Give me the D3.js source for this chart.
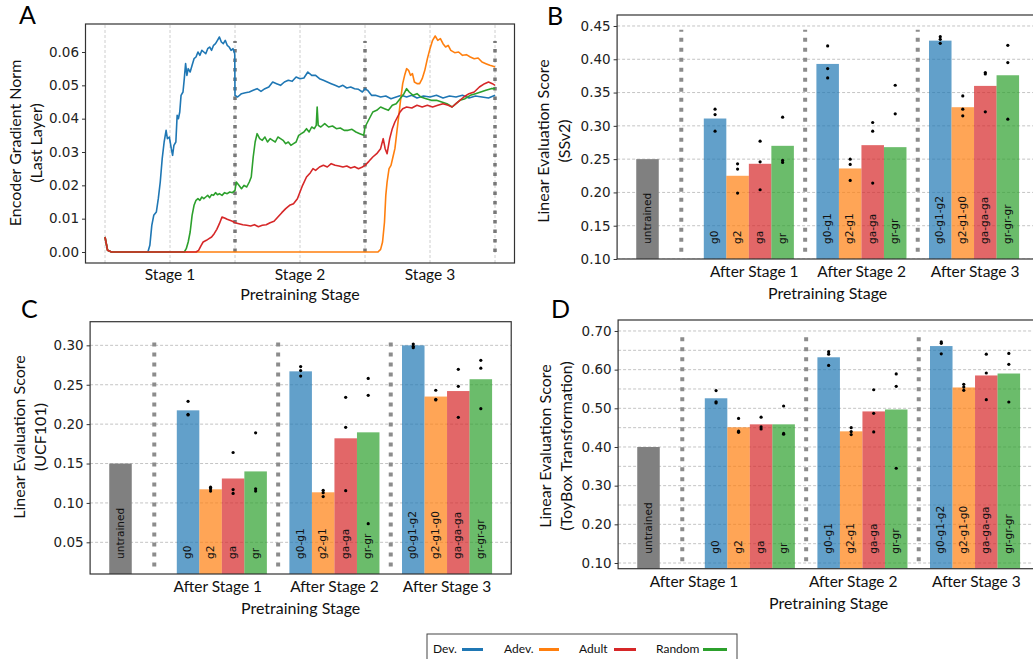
<!DOCTYPE html>
<meta charset="utf-8">
<head>
  <title>Encoder gradient norm and linear evaluation</title>
</head>
<style>
body { margin: 0; background: #fff; }
text { font-family: Lato, "DejaVu Sans", sans-serif; }
text.barlab { font-family: "DejaVu Sans", sans-serif; font-size: 10.6px; fill: #111; }
.tick text { font-family: "DejaVu Sans", sans-serif; font-size: 13.5px; fill: #222; }
.tick line { stroke: #333; }
.domain { display: none; }
</style>
<body>
<svg id="fig" width="1033" height="659"></svg>
<script src="https://cdnjs.cloudflare.com/ajax/libs/d3/7.8.5/d3.min.js"></script>
<script>
// ---- data ----
var conditions = ["Dev.", "Adev.", "Adult", "Random"]
var colors = ["#1f77b4", "#ff7f0e", "#d62728", "#2ca02c"]
var stageLabels = ["After Stage 1", "After Stage 2", "After Stage 3"]
var barLabels = [
  ["g0", "g2", "ga", "gr"],
  ["g0-g1", "g2-g1", "ga-ga", "gr-gr"],
  ["g0-g1-g2", "g2-g1-g0", "ga-ga-ga", "gr-gr-gr"]
]

// panel A: gradient norm per training progress (stage units)
var gradDev = [[0,0.0045],[0.02,0.0005],[0.05,0],[0.33,0],[0.345,0.002],[0.36,0.008],[0.375,0.011],[0.395,0.012],[0.41,0.016],[0.425,0.021],[0.44,0.028],[0.455,0.033],[0.47,0.0365],[0.48,0.034],[0.495,0.0345],[0.51,0.031],[0.52,0.029],[0.53,0.032],[0.545,0.033],[0.555,0.041],[0.565,0.040],[0.575,0.042],[0.585,0.047],[0.6,0.048],[0.61,0.052],[0.62,0.0565],[0.63,0.053],[0.64,0.055],[0.655,0.054],[0.67,0.056],[0.685,0.058],[0.7,0.0585],[0.715,0.060],[0.73,0.059],[0.745,0.0605],[0.76,0.060],[0.775,0.0595],[0.79,0.061],[0.805,0.0615],[0.82,0.0605],[0.835,0.062],[0.85,0.0625],[0.865,0.0635],[0.88,0.0645],[0.895,0.063],[0.91,0.0625],[0.925,0.0635],[0.94,0.062],[0.955,0.0615],[0.97,0.0605],[0.985,0.061],[0.998,0.0595],[1.0,0.047],[1.02,0.0465],[1.05,0.0475],[1.08,0.0478],[1.11,0.048],[1.14,0.0485],[1.17,0.049],[1.2,0.0482],[1.23,0.049],[1.26,0.0495],[1.29,0.051],[1.32,0.0505],[1.35,0.050],[1.38,0.051],[1.41,0.0515],[1.44,0.0512],[1.47,0.0525],[1.5,0.052],[1.53,0.0522],[1.56,0.054],[1.59,0.053],[1.62,0.053],[1.65,0.052],[1.68,0.0515],[1.71,0.051],[1.74,0.0505],[1.77,0.050],[1.8,0.0495],[1.83,0.050],[1.86,0.0492],[1.89,0.0495],[1.92,0.049],[1.95,0.0488],[1.98,0.048],[2.0,0.049],[2.02,0.0485],[2.05,0.047],[2.08,0.047],[2.12,0.0465],[2.16,0.0468],[2.2,0.046],[2.24,0.0465],[2.28,0.047],[2.32,0.0465],[2.36,0.047],[2.4,0.0462],[2.45,0.0468],[2.5,0.0465],[2.55,0.047],[2.6,0.0462],[2.65,0.0468],[2.7,0.0465],[2.75,0.047],[2.8,0.0462],[2.85,0.0468],[2.9,0.0465],[2.95,0.0462],[3.0,0.047]]
var gradAdev = [[0,0.0045],[0.02,0.0005],[0.05,0],[2.1,0],[2.12,0.0008],[2.135,0.003],[2.15,0.009],[2.16,0.017],[2.17,0.021],[2.185,0.025],[2.2,0.026],[2.215,0.0285],[2.23,0.031],[2.245,0.036],[2.26,0.041],[2.275,0.046],[2.29,0.0505],[2.305,0.053],[2.32,0.055],[2.335,0.0545],[2.35,0.053],[2.365,0.0535],[2.38,0.051],[2.4,0.0505],[2.42,0.0505],[2.44,0.052],[2.46,0.0545],[2.48,0.058],[2.5,0.061],[2.52,0.0635],[2.54,0.0648],[2.56,0.0635],[2.58,0.064],[2.6,0.0625],[2.62,0.0615],[2.64,0.062],[2.66,0.0605],[2.69,0.0598],[2.72,0.06],[2.75,0.059],[2.78,0.0592],[2.81,0.0585],[2.84,0.058],[2.87,0.0582],[2.9,0.057],[2.93,0.0565],[2.96,0.056],[2.98,0.0558],[3.0,0.0555]]
var gradRandom = [[0,0.0045],[0.02,0.0005],[0.05,0],[0.61,0],[0.625,0.001],[0.64,0.003],[0.655,0.006],[0.67,0.011],[0.685,0.014],[0.7,0.0155],[0.715,0.016],[0.73,0.0155],[0.745,0.0165],[0.76,0.016],[0.775,0.0165],[0.79,0.017],[0.805,0.0163],[0.82,0.0172],[0.835,0.017],[0.85,0.0178],[0.865,0.0172],[0.88,0.0175],[0.9,0.017],[0.92,0.0178],[0.94,0.0175],[0.96,0.018],[0.98,0.0178],[1.0,0.0185],[1.01,0.021],[1.03,0.020],[1.05,0.019],[1.07,0.020],[1.09,0.0195],[1.11,0.021],[1.125,0.0225],[1.14,0.0285],[1.155,0.033],[1.17,0.0355],[1.19,0.034],[1.21,0.0335],[1.23,0.0345],[1.25,0.033],[1.27,0.034],[1.29,0.0335],[1.31,0.033],[1.33,0.0345],[1.35,0.034],[1.37,0.0335],[1.39,0.0325],[1.41,0.033],[1.43,0.032],[1.45,0.0325],[1.47,0.033],[1.49,0.035],[1.51,0.0355],[1.53,0.036],[1.55,0.037],[1.57,0.036],[1.59,0.0375],[1.61,0.037],[1.625,0.038],[1.632,0.0435],[1.64,0.038],[1.66,0.0375],[1.69,0.0385],[1.72,0.0375],[1.75,0.0378],[1.78,0.037],[1.81,0.0372],[1.84,0.0365],[1.87,0.0365],[1.9,0.0368],[1.93,0.036],[1.96,0.0355],[1.99,0.035],[2.0,0.0375],[2.02,0.039],[2.04,0.0405],[2.06,0.042],[2.09,0.0425],[2.12,0.0435],[2.15,0.043],[2.18,0.0425],[2.21,0.044],[2.24,0.0445],[2.27,0.046],[2.3,0.0475],[2.32,0.049],[2.34,0.048],[2.37,0.047],[2.4,0.0475],[2.43,0.0465],[2.47,0.046],[2.51,0.0455],[2.55,0.0455],[2.59,0.045],[2.63,0.0445],[2.67,0.0435],[2.7,0.0445],[2.73,0.0455],[2.77,0.046],[2.81,0.047],[2.85,0.0475],[2.89,0.048],[2.93,0.0485],[2.97,0.049],[3.0,0.049]]
var gradAdult = [[0,0.0045],[0.02,0.0005],[0.05,0],[0.7,0],[0.72,0.0005],[0.74,0.002],[0.755,0.003],[0.78,0.0035],[0.8,0.004],[0.82,0.0045],[0.84,0.0055],[0.86,0.0068],[0.88,0.0085],[0.9,0.0105],[0.92,0.0102],[0.94,0.0098],[0.96,0.0095],[0.98,0.0092],[1.0,0.0088],[1.03,0.0085],[1.06,0.0082],[1.09,0.008],[1.12,0.0078],[1.15,0.0082],[1.18,0.0076],[1.21,0.008],[1.24,0.0082],[1.27,0.0088],[1.3,0.0092],[1.33,0.0105],[1.36,0.0118],[1.39,0.013],[1.42,0.014],[1.45,0.0145],[1.48,0.016],[1.5,0.018],[1.52,0.02],[1.55,0.0225],[1.58,0.0238],[1.6,0.025],[1.62,0.0245],[1.65,0.0255],[1.68,0.026],[1.71,0.0255],[1.74,0.0265],[1.77,0.026],[1.8,0.0258],[1.83,0.0255],[1.86,0.0258],[1.89,0.0252],[1.92,0.0256],[1.95,0.025],[1.98,0.0255],[2.0,0.026],[2.03,0.0272],[2.06,0.0285],[2.09,0.0295],[2.12,0.031],[2.14,0.034],[2.155,0.031],[2.17,0.0295],[2.19,0.034],[2.21,0.037],[2.23,0.039],[2.25,0.0405],[2.27,0.042],[2.29,0.043],[2.32,0.0435],[2.36,0.0432],[2.4,0.044],[2.44,0.0435],[2.48,0.044],[2.52,0.0435],[2.56,0.044],[2.6,0.0445],[2.64,0.044],[2.67,0.0435],[2.7,0.0445],[2.73,0.0455],[2.76,0.0465],[2.8,0.0475],[2.84,0.048],[2.88,0.0495],[2.92,0.0505],[2.95,0.051],[2.98,0.0505],[3.0,0.050]]
var gradTicks = [0, 0.01, 0.02, 0.03, 0.04, 0.05, 0.06]
var stageNames = ["Stage 1", "Stage 2", "Stage 3"]

// panel B: SSv2
var ssv2Untrained = 0.25
var ssv2Means = [[0.311, 0.225, 0.243, 0.270], [0.393, 0.236, 0.271, 0.268], [0.428, 0.328, 0.360, 0.376]]
var ssv2Runs = [
  [[0.325, 0.317, 0.292], [0.243, 0.235, 0.199], [0.277, 0.246, 0.204], [0.313, 0.248, 0.245]],
  [[0.420, 0.386, 0.372], [0.250, 0.242, 0.218], [0.305, 0.292, 0.214], [0.361, 0.318]],
  [[0.434, 0.430, 0.424], [0.345, 0.325, 0.315], [0.378, 0.321, 0.380], [0.421, 0.395, 0.310]]
]
var ssv2Ticks = [0.10, 0.15, 0.20, 0.25, 0.30, 0.35, 0.40, 0.45]

// panel C: UCF101
var ucfUntrained = 0.15
var ucfMeans = [[0.2175, 0.1173, 0.131, 0.140], [0.267, 0.1135, 0.182, 0.1896], [0.300, 0.235, 0.242, 0.257]]
var ucfRuns = [
  [[0.229, 0.2124, 0.2116], [0.120, 0.118, 0.115], [0.164, 0.117, 0.112], [0.189, 0.118, 0.115]],
  [[0.273, 0.268, 0.261], [0.116, 0.113, 0.108], [0.234, 0.196, 0.1156], [0.258, 0.2366, 0.0737]],
  [[0.3017, 0.2987, 0.297], [0.243, 0.2315, 0.2306], [0.2695, 0.248, 0.2086], [0.281, 0.271, 0.2196]]
]
var ucfTicks = [0.05, 0.10, 0.15, 0.20, 0.25, 0.30]

// panel D: ToyBox
var toyUntrained = 0.40
var toyMeans = [[0.526, 0.451, 0.4586, 0.4586], [0.632, 0.4405, 0.492, 0.497], [0.661, 0.554, 0.585, 0.590]]
var toyRuns = [
  [[0.546, 0.517, 0.514], [0.474, 0.441, 0.438], [0.477, 0.452, 0.4466], [0.506, 0.435, 0.433]],
  [[0.6466, 0.640, 0.611], [0.450, 0.440, 0.432], [0.548, 0.487, 0.439], [0.589, 0.557, 0.345]],
  [[0.6716, 0.668, 0.641], [0.562, 0.555, 0.5466], [0.640, 0.5914, 0.5224], [0.642, 0.6138, 0.5164]]
]
var toyTicks = [0.10, 0.20, 0.30, 0.40, 0.50, 0.60, 0.70]
var toyGrid = [0.10, 0.15, 0.20, 0.25, 0.30, 0.35, 0.40, 0.45, 0.50, 0.55, 0.60, 0.65, 0.70]

var svg = d3.select('#fig')

function panelLetter(x, y, t) {
  svg.append('text').attr('x', x).attr('y', y).attr('font-size', 25).text(t)
}

function yLabel(cx, cy, lines) {
  lines.forEach(function(l, i) {
    svg.append('text')
      .attr('transform', 'translate(' + (cx + i * 21) + ',' + cy + ') rotate(-90)')
      .attr('text-anchor', 'middle').attr('dy', '0.35em')
      .attr('font-size', 16).attr('fill', '#111')
      .text(l)
  })
}

function frame(g, x0, x1, y0, y1) {
  g.append('rect').attr('x', x0).attr('y', y1).attr('width', x1 - x0).attr('height', y0 - y1)
    .attr('fill', 'none').attr('stroke', '#333').attr('stroke-width', 1.2)
}

// ---- panel A ----
;(function() {
  var x = d3.scaleLinear().domain([-0.15, 3.15]).range([85.5, 514.5])
  var y = d3.scaleLinear().domain([-0.0033, 0.0684]).range([263, 24])
  var g = svg.append('g')
  g.selectAll('.vg').data(d3.range(0, 3.01, 0.5)).enter().append('line')
    .attr('x1', x).attr('x2', x).attr('y1', y.range()[0]).attr('y2', y.range()[1])
    .attr('stroke', '#c8c8c8').attr('stroke-width', 0.9).attr('stroke-dasharray', '3,2')
  g.selectAll('.sep').data([1, 2, 3]).enter().append('line')
    .attr('x1', x).attr('x2', x).attr('y1', y(0)).attr('y2', y(0.0633))
    .attr('stroke', '#777').attr('stroke-width', 3.5).attr('stroke-dasharray', '3.5,6')
  var line = d3.line().x(function(d) { return x(d[0]) }).y(function(d) { return y(d[1]) })
  var series = [[gradDev, colors[0]], [gradAdev, colors[1]], [gradRandom, colors[3]], [gradAdult, colors[2]]]
  series.forEach(function(s) {
    g.append('path').datum(s[0]).attr('d', line).attr('fill', 'none')
      .attr('stroke', s[1]).attr('stroke-width', 1.6).attr('stroke-linejoin', 'round')
  })
  g.append('g').attr('transform', 'translate(85.5,0)')
    .call(d3.axisLeft(y).tickValues(gradTicks).tickFormat(d3.format('.2f')).tickSize(3.5).tickPadding(3))
  g.selectAll('.stage').data(stageNames).enter().append('text')
    .attr('x', function(d, i) { return x(i + 0.5) }).attr('y', 280)
    .attr('text-anchor', 'middle').attr('font-size', 15.5).attr('fill', '#111').text(function(d) { return d })
  g.append('text').attr('x', 300).attr('y', 300).attr('text-anchor', 'middle')
    .attr('font-size', 16).attr('fill', '#111').text('Pretraining Stage')
  frame(g, 85.5, 514.5, 263, 24)
  yLabel(15, 143, ['Encoder Gradient Norm', '(Last Layer)'])
  panelLetter(19, 24, 'A')
})()

// ---- bar panels ----
function barPanel(opt) {
  var x = d3.scaleLinear().domain([-1.35, 17.35]).range([opt.x0, opt.x0 + 18.7 * 22.52])
  var y = d3.scaleLinear().domain(opt.ydom).range([opt.yb, opt.yt])
  var g = svg.append('g')
  var clipId = 'clip' + opt.id
  g.append('clipPath').attr('id', clipId).append('rect')
    .attr('x', x.range()[0]).attr('y', opt.yt).attr('width', x.range()[1] - x.range()[0]).attr('height', opt.yb - opt.yt)
  var inner = g.append('g').attr('clip-path', 'url(#' + clipId + ')')
  inner.selectAll('.hg').data(opt.grid).enter().append('line')
    .attr('x1', x.range()[0]).attr('x2', x.range()[1]).attr('y1', y).attr('y2', y)
    .attr('stroke', '#bdbdbd').attr('stroke-width', 0.9).attr('stroke-dasharray', '3,2')
  var bw = x(1) - x(0)
  // untrained
  inner.append('rect').attr('x', x(-0.5)).attr('width', bw)
    .attr('y', y(opt.untrained)).attr('height', opt.yb - y(opt.untrained)).attr('fill', '#808080')
  inner.append('text').attr('class', 'barlab')
    .attr('transform', 'translate(' + (x(0) + 3) + ',' + (opt.yb - 15) + ') rotate(-90)')
    .text('untrained')
  // separators
  inner.selectAll('.sep').data([1.5, 7, 12]).enter().append('line')
    .attr('x1', x).attr('x2', x)
    .attr('y1', opt.yb - 0.03 * (opt.yb - opt.yt)).attr('y2', opt.yb - 0.94 * (opt.yb - opt.yt))
    .attr('stroke', '#8c8c8c').attr('stroke-width', 4).attr('stroke-dasharray', '4,6')
  var groupCenters = [4.5, 9.5, 14.5]
  opt.means.forEach(function(grp, gi) {
    grp.forEach(function(v, ci) {
      var cx = groupCenters[gi] - 1.5 + ci
      inner.append('rect').attr('x', x(cx - 0.5)).attr('width', bw)
        .attr('y', y(v)).attr('height', opt.yb - y(v))
        .attr('fill', colors[ci]).attr('fill-opacity', 0.7)
      inner.append('text').attr('class', 'barlab')
        .attr('transform', 'translate(' + (x(cx) + 3) + ',' + (opt.yb - 15) + ') rotate(-90)')
        .text(barLabels[gi][ci])
      inner.selectAll(null).data(opt.runs[gi][ci]).enter().append('circle')
        .attr('cx', x(cx)).attr('cy', y).attr('r', 1.6).attr('fill', '#000')
    })
  })
  g.append('g').attr('transform', 'translate(' + x.range()[0] + ',0)')
    .call(d3.axisLeft(y).tickValues(opt.ticks).tickFormat(d3.format('.2f')).tickSize(3.5).tickPadding(3))
  g.selectAll('.stl').data(stageLabels).enter().append('text')
    .attr('x', function(d, i) { return x(opt.stagePos[i]) }).attr('y', opt.yb + 18)
    .attr('text-anchor', 'middle').attr('font-size', 15.5).attr('fill', '#111').text(function(d) { return d })
  g.append('text').attr('x', (x.range()[0] + x.range()[1]) / 2).attr('y', opt.yb + 40)
    .attr('text-anchor', 'middle').attr('font-size', 16).attr('fill', '#111').text('Pretraining Stage')
  frame(g, x.range()[0], x.range()[1], opt.yb, opt.yt)
  yLabel(opt.labX, opt.labY, opt.ylabel)
  panelLetter(opt.letterX, opt.letterY, opt.letter)
}

barPanel({ id: 'B', x0: 617.1, yb: 259, yt: 15, ydom: [0.10, 0.4665], untrained: ssv2Untrained,
  means: ssv2Means, runs: ssv2Runs, ticks: ssv2Ticks, grid: ssv2Ticks, stagePos: [4.74, 9.51, 14.55],
  labX: 543, labY: 141, ylabel: ['Linear Evaluation Score', '(SSv2)'], letter: 'B', letterX: 547, letterY: 25 })

barPanel({ id: 'C', x0: 90.1, yb: 574, yt: 321.7, ydom: [0.0098, 0.33], untrained: ucfUntrained,
  means: ucfMeans, runs: ucfRuns, ticks: ucfTicks, grid: ucfTicks, stagePos: [4.32, 9.5, 14.5],
  labX: 19, labY: 437, ylabel: ['Linear Evaluation Score', '(UCF101)'], letter: 'C', letterX: 21, letterY: 318 })

barPanel({ id: 'D', x0: 618.1, yb: 568.7, yt: 320, ydom: [0.0853, 0.7284], untrained: toyUntrained,
  means: toyMeans, runs: toyRuns, ticks: toyTicks, grid: toyGrid, stagePos: [2.02, 9.09, 14.56],
  labX: 545, labY: 446, ylabel: ['Linear Evaluation Score', '(ToyBox Transformation)'], letter: 'D', letterX: 551, letterY: 318 })

// ---- legend ----
var lg = svg.append('g')
lg.append('rect').attr('x', 427).attr('y', 634).attr('width', 310).attr('height', 40)
  .attr('fill', '#fff').attr('stroke', '#444').attr('stroke-width', 1)
var legendX = [433, 504, 579, 656]
var legendLine = [[462, 483], [539, 559], [614, 636], [703, 727]]
conditions.forEach(function(c, i) {
  lg.append('text').attr('x', legendX[i]).attr('y', 653).attr('font-size', 12).attr('fill', '#111').text(c)
  lg.append('line').attr('x1', legendLine[i][0]).attr('x2', legendLine[i][1]).attr('y1', 649.5).attr('y2', 649.5)
    .attr('stroke', colors[i]).attr('stroke-width', 3)
})
</script>
</body>
</html>
